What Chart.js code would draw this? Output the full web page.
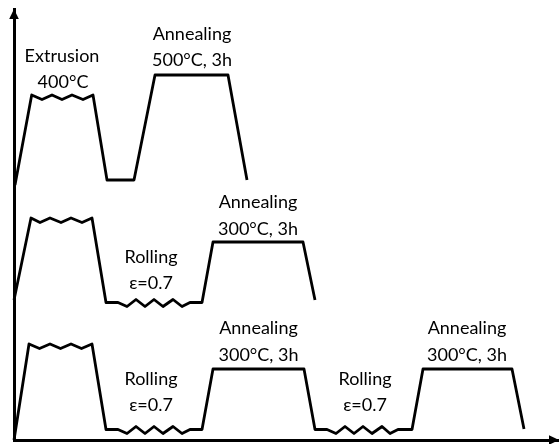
<!DOCTYPE html>
<html>
<head>
<meta charset="utf-8">
<script src="https://cdn.jsdelivr.net/npm/chart.js@4"></script>
<style>
  html, body { margin: 0; padding: 0; background: #ffffff; }
  #wrap { width: 559px; height: 444px; }
</style>
</head>
<body>
<div id="wrap"><canvas id="c" width="559" height="444"></canvas></div>
<script>
// ---- Data (time units vs. temperature units) ----
// Row 1: Extrusion 400°C -> Annealing 500°C, 3h
const row1Time = [1, 17.7, 28, 38, 48, 58, 69, 79, 93, 120, 141, 214, 233];
const row1Temp = [255, 345, 340.5, 345, 340.5, 345, 340.5, 345, 260, 260, 365, 365, 260];

// Row 2: Extrusion -> Rolling ε=0.7 -> Annealing 300°C, 3h
const row2Time = [0, 17, 26, 36, 47, 57, 68, 78, 92, 104, 113, 122, 131, 140, 149, 159, 168, 176, 188, 199, 289, 301];
const row2Temp = [140, 222, 217.5, 222, 217.5, 222, 217.5, 222, 137.5, 137.5, 133.5, 140.5, 133.5, 140.5, 133.5, 140.5, 133.5, 137.5, 137.5, 198, 198, 140];

// Row 3: Extrusion -> Rolling -> Annealing 300°C, 3h -> Rolling -> Annealing 300°C, 3h
const row3Time = [0, 15, 25.5, 36, 46.5, 57, 67.5, 78, 92, 104, 113, 122, 131, 140, 149, 159, 168, 176, 188, 199, 290, 301, 313, 322, 331, 340, 349, 358, 368, 376, 384, 398, 409, 498, 510];
const row3Temp = [0, 96, 91.5, 96, 91.5, 96, 91.5, 96, 10.5, 10.5, 6.5, 13.5, 6.5, 13.5, 6.5, 13.5, 6.5, 10.5, 10.5, 71, 71, 10.5, 10.5, 6.5, 13.5, 6.5, 13.5, 6.5, 13.5, 6.5, 10.5, 10.5, 71, 71, 11];

// Axis ranges
const timeMax = 545;
const tempMax = 431;

// Stage labels (text lines) and their anchors in data units
const labelText = [
  'Extrusion', '400°C',
  'Annealing', '500°C, 3h',
  'Annealing', '300°C, 3h',
  'Rolling', 'ε=0.7',
  'Annealing', '300°C, 3h',
  'Annealing', '300°C, 3h',
  'Rolling', 'ε=0.7',
  'Rolling', 'ε=0.7'
];
const labelTime = [48, 49, 178, 178, 244, 244, 137, 137, 244.5, 244.5, 453, 453, 137, 137, 351, 351];
const labelTemp = [384, 358, 406, 380, 238, 211, 182.5, 157, 112, 85, 112, 85, 61, 35, 61, 35];

// ---- Build datasets ----
function pts(t, v) { return t.map((x, i) => ({ x: x, y: v[i] })); }

const lineStyle = {
  borderColor: '#000000',
  borderWidth: 2.8,
  pointRadius: 0,
  pointHoverRadius: 0,
  tension: 0,
  fill: false,
  clip: false,
  borderJoinStyle: 'round',
  borderCapStyle: 'butt'
};

const datasets = [
  Object.assign({ label: 'Route 1', data: pts(row1Time, row1Temp) }, lineStyle),
  Object.assign({ label: 'Route 2', data: pts(row2Time, row2Temp) }, lineStyle),
  Object.assign({ label: 'Route 3', data: pts(row3Time, row3Temp) }, lineStyle)
];

// Arrowheads on the axes + stage labels
const decorPlugin = {
  id: 'decor',
  afterDraw(chart) {
    const ctx = chart.ctx;
    const a = chart.chartArea;
    const xs = chart.scales.x, ys = chart.scales.y;
    ctx.save();
    ctx.fillStyle = '#000000';
    // y arrow (up)
    ctx.beginPath();
    ctx.moveTo(a.left, a.top);
    ctx.lineTo(a.left - 4.8, a.top + 10);
    ctx.lineTo(a.left + 4.8, a.top + 10);
    ctx.closePath();
    ctx.fill();
    // x arrow (right)
    ctx.beginPath();
    ctx.moveTo(a.right, a.bottom);
    ctx.lineTo(a.right - 10, a.bottom - 4.8);
    ctx.lineTo(a.right - 10, a.bottom + 4.8);
    ctx.closePath();
    ctx.fill();
    // labels
    ctx.font = '18px Lato, "Open Sans", sans-serif';
    ctx.textAlign = 'center';
    ctx.textBaseline = 'middle';
    ctx.fillStyle = '#000000';
    labelText.forEach((t, i) => {
      ctx.fillText(t, xs.getPixelForValue(labelTime[i]), ys.getPixelForValue(labelTemp[i]));
    });
    ctx.restore();
  }
};

new Chart(document.getElementById('c'), {
  type: 'line',
  data: { datasets: datasets },
  options: {
    responsive: false,
    animation: false,
    devicePixelRatio: 1,
    layout: { padding: { left: 14, top: 9, right: 0, bottom: 4 } },
    plugins: { legend: { display: false }, tooltip: { enabled: false } },
    events: [],
    scales: {
      x: {
        type: 'linear', min: 0, max: timeMax,
        grid: { display: false },
        ticks: { display: false },
        border: { display: true, color: '#000000', width: 3 },
        afterFit(s) { s.height = 0; }
      },
      y: {
        type: 'linear', min: 0, max: tempMax,
        grid: { display: false },
        ticks: { display: false },
        border: { display: true, color: '#000000', width: 3 },
        afterFit(s) { s.width = 0; }
      }
    }
  },
  plugins: [decorPlugin]
});
</script>
</body>
</html>
